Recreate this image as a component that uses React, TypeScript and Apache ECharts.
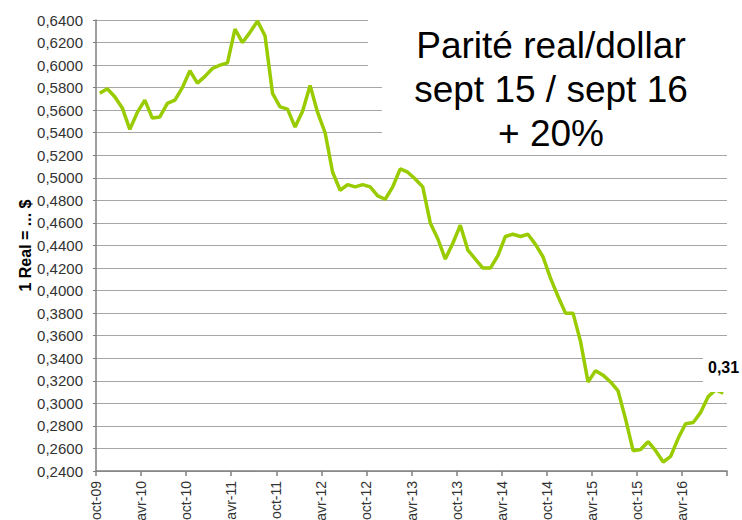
import React, { useEffect, useRef } from 'react';
import * as echarts from 'echarts';

// Monthly parity (1 real = ... $), oct-09 .. sept-16
const values: number[] = [
  0.575, 0.579, 0.572, 0.562, 0.543, 0.558, 0.569, 0.553, 0.554, 0.566, 0.569, 0.580,
  0.595, 0.584, 0.590, 0.597, 0.600, 0.602, 0.632, 0.620, 0.629, 0.639, 0.626, 0.575,
  0.563, 0.561, 0.545, 0.559, 0.582, 0.558, 0.540, 0.505, 0.489, 0.494, 0.492, 0.494,
  0.492, 0.484, 0.481, 0.492, 0.508, 0.505, 0.499, 0.492, 0.460, 0.446, 0.428, 0.442,
  0.458, 0.436, 0.428, 0.420, 0.420, 0.431, 0.448, 0.450, 0.448, 0.450, 0.441, 0.430,
  0.411, 0.395, 0.380, 0.380, 0.355, 0.319, 0.329, 0.325, 0.319, 0.311, 0.286, 0.258,
  0.259, 0.266, 0.258, 0.248, 0.253, 0.269, 0.282, 0.283, 0.292, 0.306, 0.312, 0.309,
];

const tickLabels: string[] = [
  'oct-09', 'avr-10', 'oct-10', 'avr-11', 'oct-11', 'avr-12', 'oct-12',
  'avr-13', 'oct-13', 'avr-14', 'oct-14', 'avr-15', 'oct-15', 'avr-16',
];
const monthsPerTick = 6;
const yMin = 0.24;
const yMax = 0.64;
const yStep = 0.02;
const yAxisName = '1 Real = ... $';
const titleLines: string[] = ['Parité real/dollar', 'sept 15 / sept 16', '+ 20%'];
const lastLabel = '0,31';

const FONT = 'Arial, "Liberation Sans", sans-serif';
const NARROW = '"Liberation Sans Narrow", "Arial Narrow", Arial, sans-serif';

export default function App() {
  const ref = useRef<HTMLDivElement>(null);
  useEffect(() => {
    if (!ref.current) return;
    const chart = echarts.init(ref.current, undefined, { renderer: 'svg' });
    const data = values.map((v, i) => [i + 0.5, v]);
    chart.setOption({
      animation: false,
      backgroundColor: '#ffffff',
      grid: { left: 96, right: 15, top: 20, bottom: 49, containLabel: false, outerBoundsMode: 'none' },
      xAxis: {
        type: 'value',
        min: 0,
        max: values.length,
        interval: monthsPerTick,
        splitLine: { show: false },
        axisLine: { show: true, lineStyle: { color: '#7f7f7f', width: 1.5 } },
        axisTick: { show: true, length: 5, lineStyle: { color: '#7f7f7f', width: 1.5 } },
        axisLabel: {
          rotate: 90,
          margin: 10,
          color: '#333333',
          fontFamily: NARROW,
          fontSize: 14,
          showMinLabel: true,
          showMaxLabel: true,
          formatter: (v: number) => tickLabels[Math.round(v / monthsPerTick)] ?? '',
        },
      },
      yAxis: {
        type: 'value',
        min: yMin,
        max: yMax,
        interval: yStep,
        name: yAxisName,
        nameLocation: 'middle',
        nameRotate: 90,
        nameGap: 63,
        nameMoveOverlap: false,
        nameTextStyle: { fontFamily: FONT, fontSize: 16, fontWeight: 'bold', color: '#000' },
        axisLine: { show: true, lineStyle: { color: '#7f7f7f', width: 1.5 } },
        axisTick: { show: true, length: 3, lineStyle: { color: '#7f7f7f' } },
        splitLine: { show: true, lineStyle: { color: '#a6a6a6', width: 1 } },
        axisLabel: {
          margin: 13,
          color: '#333333',
          fontFamily: NARROW,
          fontSize: 15,
          formatter: (v: number) => v.toFixed(4).replace('.', ','),
        },
      },
      series: [
        {
          type: 'line',
          data,
          symbol: 'none',
          lineStyle: { color: '#99cc00', width: 3.5 },
          z: 3,
        },
      ],
      graphic: [
        { type: 'rect', z: 10, shape: { x: 368, y: 0, width: 374, height: 76 }, style: { fill: '#ffffff' } },
        { type: 'rect', z: 10, shape: { x: 382, y: 76, width: 360, height: 72 }, style: { fill: '#ffffff' } },
        { type: 'rect', z: 10, shape: { x: 703, y: 348, width: 39, height: 44 }, style: { fill: '#ffffff' } },
        ...titleLines.map((t, k) => ({
          type: 'text',
          z: 11,
          x: 551,
          y: 45 + k * 44,
          style: {
            text: t,
            fill: '#000000',
            font: `37px ${FONT}`,
            textAlign: 'center',
            textVerticalAlign: 'middle',
          },
        })),
        {
          type: 'text',
          z: 11,
          x: 708,
          y: 367,
          style: {
            text: lastLabel,
            fill: '#000000',
            font: `bold 16px ${FONT}`,
            textAlign: 'left',
            textVerticalAlign: 'middle',
          },
        },
      ],
    });
    return () => chart.dispose();
  }, []);
  return (
    <div
      ref={ref}
      style={{ position: 'fixed', left: 0, top: 0, width: 742, height: 520, background: '#fff' }}
    />
  );
}
